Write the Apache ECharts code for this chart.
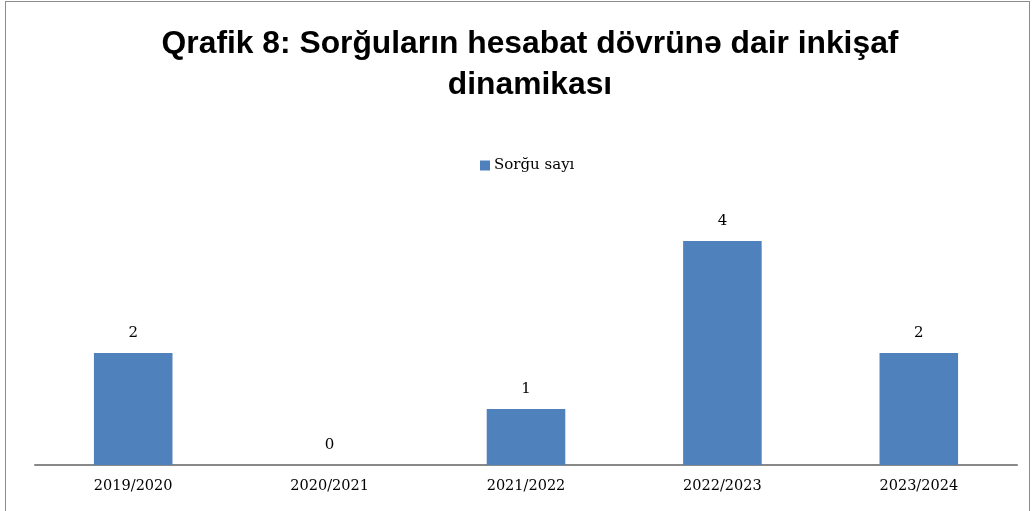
<!DOCTYPE html>
<html><head><meta charset="utf-8">
<script src="https://cdn.jsdelivr.net/npm/echarts@6/dist/echarts.min.js"></script>
<style>html,body{margin:0;padding:0;background:#fff}
#frame{position:absolute;left:5px;top:1px;width:1025px;height:520px;border:1px solid #8c8c8c;box-sizing:border-box}
#c{position:absolute;left:0;top:0;width:1036px;height:511px}</style>
</head><body><div id="frame"></div><div id="c"></div>
<script>
const categories = ['2019/2020','2020/2021','2021/2022','2022/2023','2023/2024'];
const seriesName = 'Sorğu sayı';
const values = [2, 0, 1, 4, 2];
const titleText = 'Qrafik 8: Sorğuların hesabat dövrünə dair inkişaf\ndinamikası';

const chart = echarts.init(document.getElementById('c'));
chart.setOption({
  animation: false,
  title: {
    text: titleText, left: 525, textAlign: 'center', top: 19,
    textStyle: {fontFamily: 'Liberation Sans', fontWeight: 'bold', fontSize: 31.8, lineHeight: 41, color: '#000'}
  },
  legend: {
    data: [seriesName], top: 153, left: 475,
    itemWidth: 10, itemHeight: 10, itemGap: 4,
    textStyle: {fontFamily: 'DejaVu Serif', fontSize: 15, color: '#000', padding: [0,0,0,-1]},
    icon: 'rect'
  },
  grid: {left: 35, right: 19, top: 185, bottom: 46},
  xAxis: {
    type: 'category', data: categories,
    axisLine: {lineStyle: {color: '#888', width: 2}},
    axisTick: {show: false},
    axisLabel: {fontFamily: 'DejaVu Serif', fontSize: 14.5, color: '#000', margin: 14}
  },
  yAxis: {type: 'value', min: 0, max: 5, show: false, splitLine: {show: false}},
  series: [{
    name: seriesName, type: 'bar', data: values, barWidth: '40%',
    itemStyle: {color: '#4F81BD'},
    label: {show: true, position: 'top', distance: 12, fontFamily: 'DejaVu Serif', fontSize: 15, color: '#000'}
  }]
});
</script></body></html>
